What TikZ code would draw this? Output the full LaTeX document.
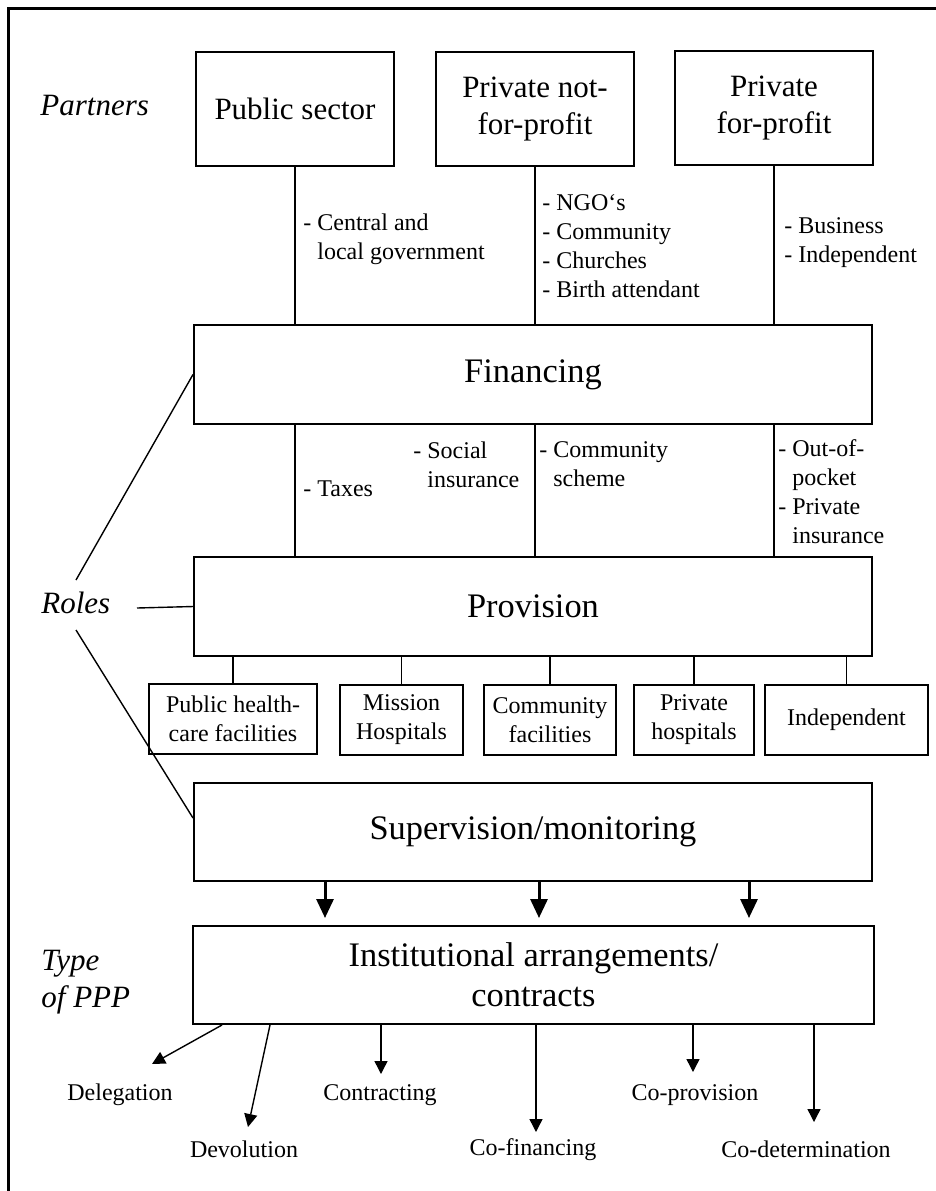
\documentclass[tikz,border=0pt]{standalone}
\usepackage{fontspec}
\setmainfont{Liberation Serif}
\usetikzlibrary{arrows.meta,calc}

\begin{document}
\begin{tikzpicture}[x=0.5pt,y=-0.5pt,
  plainbox/.style={draw,line width=1pt,inner sep=0pt,align=center},
  pbox/.style={plainbox,minimum width=99pt,minimum height=57pt,font=\fontsize{15.5}{18.5}\selectfont},
  rolebox/.style={plainbox,minimum width=339pt,minimum height=49.5pt,font=\fontsize{17.2}{20.2}\selectfont},
  facbox/.style={plainbox,minimum height=35pt,font=\fontsize{12}{14.5}\selectfont},
  lbl/.style={anchor=base west,inner sep=0pt,align=left,font=\fontsize{12}{14.4}\selectfont},
  sidelbl/.style={anchor=base west,inner sep=0pt,align=left,font=\itshape\fontsize{15.5}{18.5}\selectfont},
  typelbl/.style={anchor=base,inner sep=0pt,font=\fontsize{12}{14.4}\selectfont},
  conn/.style={line width=0.7pt},
  thinarrow/.style={conn,-{Triangle[length=6.5pt,width=6.5pt]}},
  thickarrow/.style={line width=1.5pt,-{Triangle[length=9.5pt,width=8.5pt]}}
]
\useasboundingbox (0,0) rectangle (936,1191);
\draw[line width=1.5pt] (8,1191) -- (8,8) -- (936,8);

% partners
\node[sidelbl] (partners) at (40,115) {Partners};
\node[pbox] (pub) at (295,109) {Public sector};
\node[pbox] (pnp) at (535,109) {Private not-\\for-profit};
\node[pbox] (pfp) at (774,108) {Private\\for-profit};

% roles
\node[rolebox] (fin) at (533,374.5) {Financing};
\node[rolebox] (prov) at (533,606.5) {Provision};
\node[rolebox,minimum height=49pt] (sup) at (533,832) {Supervision/monitoring};

\draw[conn] (pub.south) -- (pub.south |- fin.north);
\draw[conn] (pnp.south) -- (pnp.south |- fin.north);
\draw[conn] (pfp.south) -- (pfp.south |- fin.north);

\draw[conn] (pub.south |- fin.south) -- (pub.south |- prov.north);
\draw[conn] (pnp.south |- fin.south) -- (pnp.south |- prov.north);
\draw[conn] (pfp.south |- fin.south) -- (pfp.south |- prov.north);

% base anchor = baseline of the last line
\node[lbl] (gov) at (303,259) {- Central and\\\hphantom{- }local government};
\node[lbl] (ngo) at (542,297) {- NGO‘s\\- Community\\- Churches\\- Birth attendant};
\node[lbl] (bus) at (784,262) {- Business\\- Independent};

\node[lbl] (tax) at (303,496) {- Taxes};
\node[lbl] (soc) at (413,487) {- Social\\\hphantom{- }insurance};
\node[lbl] (cs) at (539,486) {- Community\\\hphantom{- }scheme};
\node[lbl] (oop) at (778,543) {- Out-of-\\\hphantom{- }pocket\\- Private\\\hphantom{- }insurance};

\node[sidelbl] (roles) at (41,613) {Roles};
\coordinate (rA) at (76,580);
\coordinate (rB) at (137,608);
\coordinate (rC) at (76,630);
\draw[conn] (rA) -- (fin.west);
\draw[conn] (rB) -- (prov.west);
\draw[conn] (rC) -- ([yshift=7pt]sup.west);

% facilities
\node[facbox,minimum width=84pt] (f1) at (233,718.5) {Public health-\\care facilities};
\node[facbox,minimum width=61.5pt] (f2) at (401.5,719.5) {Mission\\Hospitals};
\node[facbox,minimum width=66pt] (f3) at (550,720) {Community\\facilities};
\node[facbox,minimum width=60pt] (f4) at (694,720) {Private\\hospitals};
\node[facbox,minimum width=81.5pt] (f5) at (846.5,719.5) {Independent};
\foreach \f in {f1,f2,f3,f4,f5}
  \draw[conn] (\f.north) -- (\f.north |- prov.south);

% institutional
\node[rolebox,minimum width=340.5pt,minimum height=49pt] (inst) at (533.5,975) {Institutional arrangements/\\contracts};
\foreach \x in {325,539,749}
  \draw[thickarrow,shorten >=3.5pt] (\x,0 |- sup.south) -- (\x,0 |- inst.north);

\node[sidelbl] (type) at (41,1007) {Type\\of PPP};

\node[typelbl] (dele) at (120,1100) {Delegation};
\node[typelbl] (devo) at (244,1157) {Devolution};
\node[typelbl] (cont) at (380,1100) {Contracting};
\node[typelbl] (cofi) at (533,1155) {Co-financing};
\node[typelbl] (copr) at (695,1100) {Co-provision};
\node[typelbl] (code) at (806,1157) {Co-determination};

\coordinate (deleT) at (152,1064);
\coordinate (devoT) at (248,1127);
\coordinate (contT) at (381,1074);
\coordinate (cofiT) at (536,1132);
\coordinate (coprT) at (693,1072);
\coordinate (codeT) at (814,1122);

\draw[thinarrow] (222,0 |- inst.south) -- (deleT);
\draw[thinarrow] (270,0 |- inst.south) -- (devoT);
\draw[thinarrow] (contT |- inst.south) -- (contT);
\draw[thinarrow] (cofiT |- inst.south) -- (cofiT);
\draw[thinarrow] (coprT |- inst.south) -- (coprT);
\draw[thinarrow] (codeT |- inst.south) -- (codeT);
\end{tikzpicture}
\end{document}
